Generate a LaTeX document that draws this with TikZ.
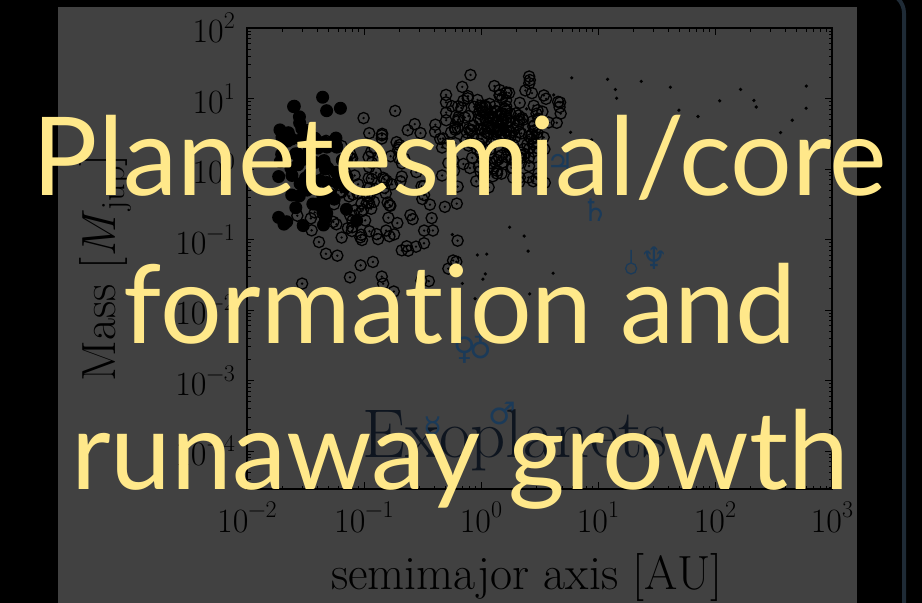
\documentclass[tikz,border=0pt]{standalone}
\usepackage{fontspec}
\newfontfamily\titlefont{Lato}[Ligatures=NoCommon]
\newfontfamily\planetfont{DejaVu Sans}
\usetikzlibrary{arrows.meta}

\definecolor{panelgray}{RGB}{65,65,65}
\definecolor{titleyellow}{RGB}{255,232,138}
\definecolor{framecol}{RGB}{31,43,54}
\definecolor{planetblue}{RGB}{27,58,88}
\definecolor{labelnavy}{RGB}{14,21,31}

% power of ten label, exponent set as a raised smaller number
\newcommand{\tenpow}[1]{10\raisebox{0.42em}{\fontsize{24}{24}\selectfont
  \ifnum#1<0 −\the\numexpr-#1\relax\else#1\fi}}

\tikzset{
  axisline/.style={line width=1.3pt},
  tickline/.style={line width=1pt},
  ticklabel/.style={font=\fontsize{34}{40}\selectfont, inner sep=0pt},
  axislabel/.style={font=\fontsize{48}{56}\selectfont, inner sep=0pt, anchor=base},
  titleline/.style={font=\titlefont\fontsize{109}{130}\selectfont, text=titleyellow, inner sep=0pt, anchor=base},
  hotjup/.style={fill=black},
  rvplanet/.style={draw=black, line width=1.3pt},
  farplanet/.style={fill=black},
  planetsym/.style={font=\planetfont\fontsize{31}{31}\selectfont, text=planetblue, inner sep=0pt},
}

\begin{document}
\begin{tikzpicture}[x=1pt,y=-1pt]
\useasboundingbox[fill=black] (0,0) rectangle (922,603);
% slide panel and the frame edge on the right
\fill[panelgray] (58,7) rectangle (857,603);
\draw[framecol, line width=4pt, rounded corners=20pt] (700,-7) -- (904,-7) -- (904,650);

% log-log axes: x = log10(a/AU), y = log10(M/Mjup)
\begin{scope}[shift={(481pt,-169pt)}, x=117pt, y=70.5pt]
  \draw[axisline] (-2,-4.54) rectangle (3,2);
  % ticks, pointing inwards on all four sides
  \foreach \d in {-2,...,3}{
    \draw[tickline] (\d,-4.54) -- ++(0,7pt);
    \draw[tickline] (\d,2) -- ++(0,-7pt);
    \node[ticklabel, anchor=base] (xtick\d) at (\d,-5.149) {\tenpow{\d}};
  }
  \foreach \d in {-2,...,2}
    \foreach \k in {2,...,9}{
      \draw[tickline] ({\d+log10(\k)},-4.54) -- ++(0,3.5pt);
      \draw[tickline] ({\d+log10(\k)},2) -- ++(0,-3.5pt);
    }
  \foreach \d in {-4,...,2}{
    \draw[tickline] (-2,\d) -- ++(7pt,0);
    \draw[tickline] (3,\d) -- ++(-7pt,0);
    \node[ticklabel, anchor=east] (ytick\d) at ([xshift=-12pt]-2,\d) {\tenpow{\d}};
  }
  \foreach \d in {-5,...,1}
    \foreach \k in {2,...,9}{
      \pgfmathsetmacro\lm{\d+log10(\k)}
      \ifdim\lm pt>-4.54pt
        \draw[tickline] (-2,\lm) -- ++(3.5pt,0);
        \draw[tickline] (3,\lm) -- ++(-3.5pt,0);
      \fi
    }
  \node[axislabel] (xlabel) at (0.39,-5.97) {semimajor axis [AU]};
  \node[axislabel, rotate=90] (ylabel) at (-3.128,-1.40)
    {Mass [\textit{M}\raisebox{-0.2em}{\fontsize{34}{34}\selectfont jup}]};
  \node[font=\fontsize{69}{80}\selectfont, text=labelnavy, inner sep=0pt, anchor=base west]
    (exo) at (-1.017,-4.099) {Exoplanets};

  % solar system planets
  \foreach \sym/\la/\lm/\name in {☿/-0.412/-3.70/mercury, ♀/-0.141/-2.57/venus,
      ♁/0/-2.50/earth, ♂/0.182/-3.47/mars, ♃/0.68/0.10/jupiter,
      ♄/0.98/-0.58/saturn, ♆/1.478/-1.27/neptune}
    \node[planetsym] (\name) at (\la,\lm) {\sym};
  \draw[planetblue, line width=1.3pt, -{Straight Barb[length=3pt]}]
    (1.283,-1.34) ++(0,-5pt) circle[radius=5.5pt] ++(0,5.5pt) -- ++(0,13pt);

  % planet samples
  \begin{scope}
    \clip (-2,-4.54) rectangle (3,2);
    \pgfmathsetseed{4217}
    \foreach \i in {1,...,75}{
      \pgfmathsetmacro\la{-1.45+0.2*(rand+rand)}
      \pgfmathsetmacro\lm{0.1+0.65*(rand+rand)}
      \fill[hotjup] (\la,\lm) circle[radius=6.5pt];
    }
    \foreach \i in {1,...,220}{
      \pgfmathsetmacro\la{0.15+0.3*(rand+rand)}
      \pgfmathsetmacro\lm{0.5+0.45*(rand+rand)}
      \draw[rvplanet] (\la,\lm) circle[radius=5.6pt];
      \fill (\la,\lm) circle[radius=1.3pt];
    }
    \foreach \i in {1,...,130}{
      \pgfmathsetmacro\la{-0.85+0.4*(rand+rand)}
      \pgfmathsetmacro\lm{-0.45+0.7*(rand+rand)}
      \draw[rvplanet] (\la,\lm) circle[radius=5.6pt];
      \fill (\la,\lm) circle[radius=1.3pt];
    }
    \foreach \i in {1,...,22}{
      \pgfmathsetmacro\la{0.3+2.6*rnd}
      \pgfmathsetmacro\lm{0.85+0.45*rand}
      \fill[farplanet] (\la,\lm) circle[radius=1.8pt];
    }
    \foreach \i in {1,...,15}{
      \pgfmathsetmacro\la{0.2+0.45*rand}
      \pgfmathsetmacro\lm{-1.3+0.6*rand}
      \fill[farplanet] (\la,\lm) circle[radius=1.8pt];
    }
  \end{scope}
\end{scope}

% slide title on top
\node[titleline] (title1) at (460,195) {Planetesmial/core};
\node[titleline] (title2) at (460,343) {formation and};
\node[titleline] (title3) at (460,489) {runaway growth};
\end{tikzpicture}
\end{document}
